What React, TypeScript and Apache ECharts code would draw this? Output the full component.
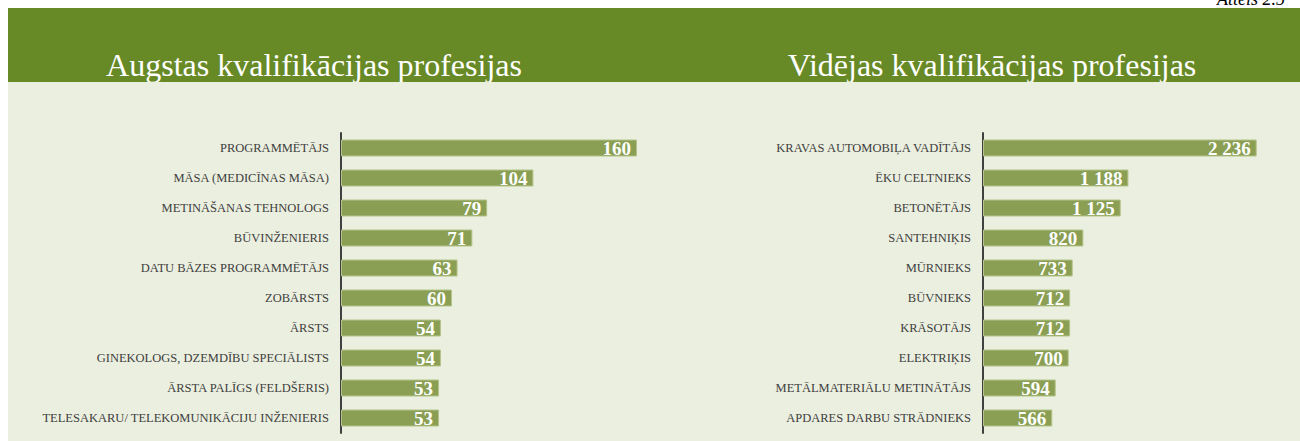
import React, { useEffect, useRef } from "react";
import * as echarts from "echarts";

const highCategories = [
  "PROGRAMMĒTĀJS",
  "MĀSA (MEDICĪNAS MĀSA)",
  "METINĀŠANAS TEHNOLOGS",
  "BŪVINŽENIERIS",
  "DATU BĀZES PROGRAMMĒTĀJS",
  "ZOBĀRSTS",
  "ĀRSTS",
  "GINEKOLOGS, DZEMDĪBU SPECIĀLISTS",
  "ĀRSTA PALĪGS (FELDŠERIS)",
  "TELESAKARU/ TELEKOMUNIKĀCIJU INŽENIERIS",
];
const highValues = [160, 104, 79, 71, 63, 60, 54, 54, 53, 53];

const midCategories = [
  "KRAVAS AUTOMOBIĻA VADĪTĀJS",
  "ĒKU CELTNIEKS",
  "BETONĒTĀJS",
  "SANTEHNIĶIS",
  "MŪRNIEKS",
  "BŪVNIEKS",
  "KRĀSOTĀJS",
  "ELEKTRIĶIS",
  "METĀLMATERIĀLU METINĀTĀJS",
  "APDARES DARBU STRĀDNIEKS",
];
const midValues = [2236, 1188, 1125, 820, 733, 712, 712, 700, 594, 566];

const titleLeft = "Augstas kvalifikācijas profesijas";
const titleRight = "Vidējas kvalifikācijas profesijas";
const figureLabel = "Attēls 2.5";

const SERIF = "'Liberation Serif', 'Times New Roman', serif";

const fmt = (v: number) =>
  String(v).replace(/\B(?=(\d{3})+(?!\d))/g, " ");

export default function App() {
  const ref = useRef<HTMLDivElement>(null);

  useEffect(() => {
    if (!ref.current) return;
    const chart = echarts.init(ref.current, undefined, { renderer: "svg" });

    const yAxisCommon = {
      type: "category" as const,
      inverse: true,
      axisLine: { show: true, lineStyle: { color: "#404040", width: 2 } },
      axisTick: { show: false },
      splitLine: { show: false },
      axisLabel: {
        fontFamily: SERIF,
        fontSize: 12.5,
        color: "#404040",
        margin: 12,
      },
    };
    const xAxisCommon = {
      type: "value" as const,
      min: 0,
      show: false,
      splitLine: { show: false },
    };
    const seriesCommon = {
      type: "bar" as const,
      barWidth: 17,
      itemStyle: { color: "#8A9F54", borderColor: "#B3C389", borderWidth: 1 },
      label: {
        show: true,
        position: "insideRight" as const,
        distance: 6,
        color: "#ffffff",
        fontFamily: SERIF,
        fontWeight: "bold" as const,
        fontSize: 19,
        formatter: (p: any) => fmt(p.value),
      },
    };

    chart.setOption({
      animation: false,
      grid: [
        { left: 341, top: 133, width: 333, height: 300 },
        { left: 983, top: 133, width: 306, height: 300 },
      ],
      xAxis: [
        { ...xAxisCommon, gridIndex: 0, max: 180 },
        { ...xAxisCommon, gridIndex: 1, max: 2500 },
      ],
      yAxis: [
        { ...yAxisCommon, gridIndex: 0, data: highCategories },
        { ...yAxisCommon, gridIndex: 1, data: midCategories },
      ],
      series: [
        { ...seriesCommon, xAxisIndex: 0, yAxisIndex: 0, data: highValues },
        { ...seriesCommon, xAxisIndex: 1, yAxisIndex: 1, data: midValues },
      ],
      graphic: [
        {
          type: "rect",
          shape: { x: 8, y: 8, width: 1292, height: 74 },
          style: { fill: "#678A27" },
          silent: true,
        },
        {
          type: "text",
          x: 314,
          y: 65,
          style: {
            text: titleLeft,
            fill: "#ffffff",
            font: `32px ${SERIF}`,
            align: "center",
            verticalAlign: "middle",
          },
          silent: true,
        },
        {
          type: "text",
          x: 992,
          y: 65,
          style: {
            text: titleRight,
            fill: "#ffffff",
            font: `32px ${SERIF}`,
            align: "center",
            verticalAlign: "middle",
          },
          silent: true,
        },
        {
          type: "rect",
          shape: { x: 8, y: 82, width: 1292, height: 359 },
          style: { fill: "#EBEFDF" },
          silent: true,
        },
        {
          type: "text",
          x: 1217,
          y: -1,
          style: {
            text: figureLabel,
            fill: "#000000",
            font: `italic 18px ${SERIF}`,
            align: "left",
            verticalAlign: "middle",
          },
          silent: true,
        },
      ],
    });

    return () => chart.dispose();
  }, []);

  return (
    <div
      ref={ref}
      style={{ position: "absolute", left: 0, top: 0, width: 1300, height: 441 }}
    />
  );
}
